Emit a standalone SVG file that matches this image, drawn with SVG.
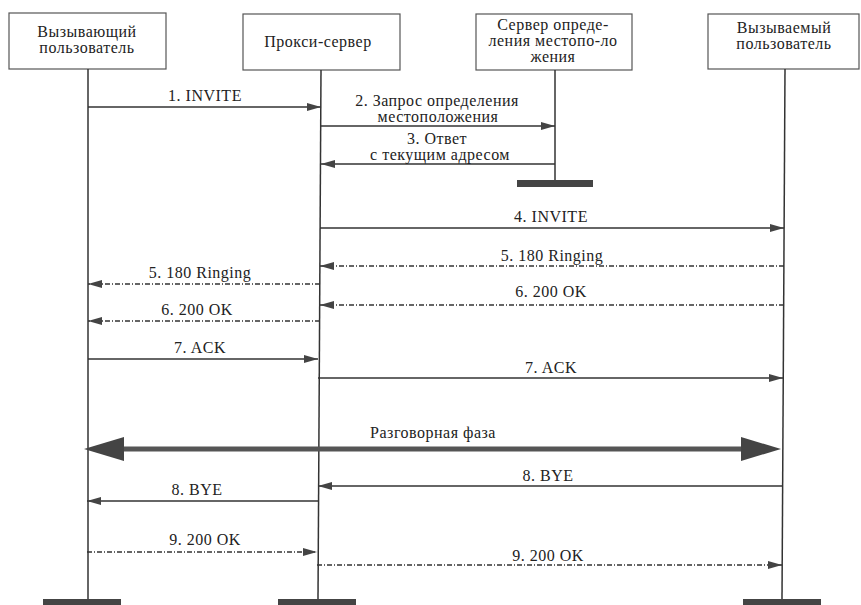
<svg xmlns="http://www.w3.org/2000/svg" width="861" height="605" viewBox="0 0 861 605" font-family="Liberation Serif, Times New Roman, Times, serif">
<style>
.box{fill:#fff;stroke:#555;stroke-width:1.2}
.life{stroke:#333;stroke-width:1.5}
.t{font-size:16px;letter-spacing:0.5px;fill:#222;text-anchor:middle}
.m{stroke:#333;stroke-width:1.3;fill:none}
.d{stroke:#333;stroke-width:1.3;fill:none;stroke-dasharray:5 2 1 2}
.bar{fill:#444}
</style>
<defs>
<marker id="ah" viewBox="0 0 14 8" refX="14" refY="4" markerWidth="14" markerHeight="8" markerUnits="userSpaceOnUse" orient="auto">
<path d="M0,0 L14,4 L0,8 z" fill="#444"/>
</marker>
</defs>
<rect width="861" height="605" fill="#fff"/>
<g id="caller">
<rect class="box" x="9" y="13" width="157" height="56"/>
<text class="t" x="87" y="37">Вызывающий</text>
<text class="t" x="87" y="53">пользователь</text>
<line class="life" x1="88" y1="69" x2="88" y2="600"/>
<rect class="bar" x="43" y="599" width="78" height="6"/>
</g>
<g id="proxy">
<rect class="box" x="243" y="14" width="157" height="56"/>
<text class="t" x="318" y="47">Прокси-сервер</text>
<line class="life" x1="321" y1="70" x2="318" y2="600"/>
<rect class="bar" x="278" y="599" width="78" height="6"/>
</g>
<g id="location">
<rect class="box" x="476" y="14" width="156" height="56"/>
<text class="t" x="553" y="30">Сервер опреде-</text>
<text class="t" x="553" y="46">ления местопо-ло</text>
<text class="t" x="553" y="62">жения</text>
<line class="life" x1="555" y1="70" x2="555" y2="181"/>
<rect class="bar" x="517" y="180" width="76" height="7"/>
</g>
<g id="callee">
<rect class="box" x="708" y="14" width="151" height="55"/>
<text class="t" x="784" y="33">Вызываемый</text>
<text class="t" x="784" y="49">пользователь</text>
<line class="life" x1="785" y1="69" x2="782" y2="600"/>
<rect class="bar" x="743" y="599" width="78" height="6"/>
</g>
<g id="connectors">
<line class="m" x1="88" y1="107" x2="321" y2="107" marker-end="url(#ah)"/>
<text class="t" x="205" y="101">1. INVITE</text>
<line class="m" x1="321" y1="126" x2="555" y2="126" marker-end="url(#ah)"/>
<text class="t" x="437" y="106">2. Запрос определения</text>
<text class="t" x="438" y="122">местоположения</text>
<line class="m" x1="555" y1="164" x2="321" y2="164" marker-end="url(#ah)"/>
<text class="t" x="437" y="144">3. Ответ</text>
<text class="t" x="440" y="160">с текущим адресом</text>
<line class="m" x1="320" y1="228" x2="784" y2="228" marker-end="url(#ah)"/>
<text class="t" x="551" y="222">4. INVITE</text>
<line class="d" x1="784" y1="266" x2="320" y2="266" marker-end="url(#ah)"/>
<text class="t" x="552" y="261">5. 180 Ringing</text>
<line class="d" x1="320" y1="284" x2="88" y2="284" marker-end="url(#ah)"/>
<text class="t" x="200" y="278">5. 180 Ringing</text>
<line class="d" x1="784" y1="305" x2="320" y2="305" marker-end="url(#ah)"/>
<text class="t" x="551" y="297">6. 200 OK</text>
<line class="d" x1="320" y1="321" x2="88" y2="321" marker-end="url(#ah)"/>
<text class="t" x="197" y="315">6. 200 OK</text>
<line class="m" x1="88" y1="359" x2="318" y2="359" marker-end="url(#ah)"/>
<text class="t" x="200" y="353">7. ACK</text>
<line class="m" x1="318" y1="378" x2="783" y2="378" marker-end="url(#ah)"/>
<text class="t" x="551" y="373">7. ACK</text>
<line x1="120" y1="449" x2="745" y2="449" stroke="#555" stroke-width="5"/>
<polygon points="84,449 124,437 124,461" fill="#444"/>
<polygon points="781,449 741,437 741,461" fill="#444"/>
<text class="t" x="433" y="438">Разговорная фаза</text>
<line class="m" x1="782" y1="486" x2="318" y2="486" marker-end="url(#ah)"/>
<text class="t" x="548" y="481">8. BYE</text>
<line class="m" x1="318" y1="501" x2="87" y2="501" marker-end="url(#ah)"/>
<text class="t" x="197" y="495">8. BYE</text>
<line class="d" x1="87" y1="552" x2="317" y2="552" marker-end="url(#ah)"/>
<text class="t" x="205" y="545">9. 200 OK</text>
<line class="d" x1="317" y1="565" x2="782" y2="565" marker-end="url(#ah)"/>
<text class="t" x="548" y="561">9. 200 OK</text>
</g>
</svg>
